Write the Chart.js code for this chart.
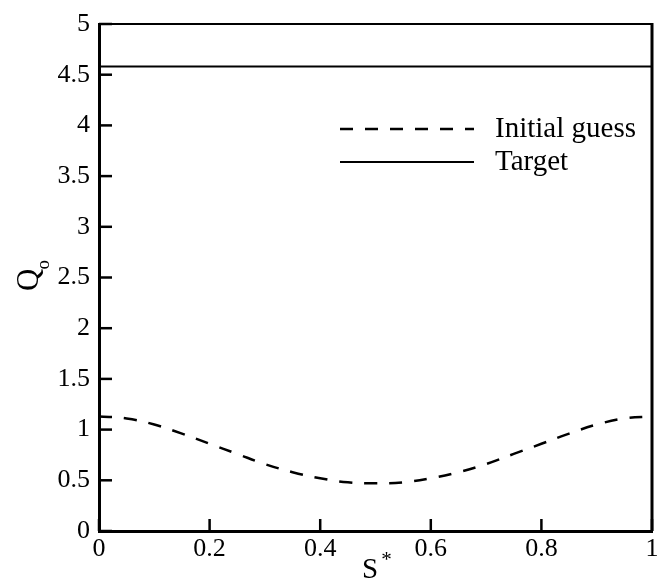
<!DOCTYPE html>
<html>
<head>
<meta charset="utf-8">
<script src="https://cdn.jsdelivr.net/npm/chart.js@4"></script>
<style>
  html, body { margin:0; padding:0; background:#fff; }
  #wrap { width:657px; height:580px; position:relative; }
</style>
</head>
<body>
<div id="wrap"><canvas id="c" width="657" height="580"></canvas></div>
<script>
// ===== Q_o vs S* — initial guess vs target =====

const S_VALUES      = [0, 0.05, 0.1, 0.15, 0.2, 0.25, 0.3, 0.35, 0.4, 0.45, 0.5, 0.55, 0.6, 0.65, 0.7, 0.75, 0.8, 0.85, 0.9, 0.95, 1];
const INITIAL_GUESS = [1.13, 1.11, 1.05, 0.96, 0.86, 0.76, 0.66, 0.58, 0.52, 0.48, 0.47, 0.48, 0.52, 0.58, 0.66, 0.76, 0.86, 0.96, 1.05, 1.11, 1.13];
const TARGET        = [4.58, 4.58, 4.58, 4.58, 4.58, 4.58, 4.58, 4.58, 4.58, 4.58, 4.58, 4.58, 4.58, 4.58, 4.58, 4.58, 4.58, 4.58, 4.58, 4.58, 4.58];
const X_TICKS = [0, 0.2, 0.4, 0.6, 0.8, 1];
const Y_TICKS = [0, 0.5, 1, 1.5, 2, 2.5, 3, 3.5, 4, 4.5, 5];

const SERIF = '"Liberation Serif", "DejaVu Serif", serif';
const DASH = [13, 12];

const pts = ys => S_VALUES.map((s, i) => ({ x: s, y: ys[i] }));

// frame, inward ticks, legend, axis titles
const decor = {
  id: 'decor',
  afterDraw(chart) {
    const { ctx, chartArea: a, scales: { x, y } } = chart;
    ctx.save();
    ctx.strokeStyle = '#000';
    ctx.lineCap = 'butt';

    // top + right frame
    ctx.lineWidth = 2;
    ctx.beginPath(); ctx.moveTo(a.left, a.top); ctx.lineTo(a.right, a.top); ctx.stroke();
    ctx.lineWidth = 3;
    ctx.beginPath(); ctx.moveTo(a.right, a.top - 1); ctx.lineTo(a.right, a.bottom); ctx.stroke();

    // inward ticks
    ctx.lineWidth = 2.5;
    Y_TICKS.forEach(v => {
      const py = y.getPixelForValue(v);
      ctx.beginPath(); ctx.moveTo(a.left, py); ctx.lineTo(a.left + 13, py); ctx.stroke();
    });
    X_TICKS.forEach(v => {
      const px = x.getPixelForValue(v);
      ctx.beginPath(); ctx.moveTo(px, a.bottom); ctx.lineTo(px, a.bottom - 12); ctx.stroke();
    });

    // legend
    const ds = chart.data.datasets;
    const rows = [{ y: 129 }, { y: 162 }];
    ctx.font = '29px ' + SERIF;
    ctx.fillStyle = '#000';
    ctx.textBaseline = 'middle';
    ds.forEach((d, i) => {
      const ly = rows[i].y;
      ctx.lineWidth = d.borderWidth;
      ctx.setLineDash(d.borderDash || []);
      ctx.beginPath(); ctx.moveTo(340, ly); ctx.lineTo(474, ly); ctx.stroke();
      ctx.setLineDash([]);
      ctx.fillText(d.label, 495, ly);
    });

    // y title: Q with subscript o, rotated
    ctx.save();
    ctx.translate(38, 291);
    ctx.rotate(-Math.PI / 2);
    ctx.textBaseline = 'alphabetic';
    ctx.textAlign = 'left';
    ctx.font = '31px ' + SERIF;
    ctx.fillText('Q', 0, 0);
    const qw = ctx.measureText('Q').width;
    ctx.font = '19px ' + SERIF;
    ctx.fillText('o', qw - 1, 11);
    ctx.restore();

    // x title: S with superscript *
    ctx.textBaseline = 'alphabetic';
    ctx.textAlign = 'left';
    ctx.font = '29px ' + SERIF;
    ctx.fillText('S', 362, 578);
    const sw = ctx.measureText('S').width;
    ctx.font = '21px ' + SERIF;
    ctx.fillText('*', 362 + sw + 3, 566);

    ctx.restore();
  }
};

new Chart(document.getElementById('c'), {
  type: 'line',
  data: {
    datasets: [
      { label: 'Initial guess', data: pts(INITIAL_GUESS), borderColor: '#000', borderWidth: 2.5,
        borderDash: DASH, pointRadius: 0, tension: 0.4, fill: false },
      { label: 'Target', data: pts(TARGET), borderColor: '#000', borderWidth: 2,
        pointRadius: 0, tension: 0, fill: false }
    ]
  },
  options: {
    responsive: false, animation: false, devicePixelRatio: 1,
    layout: { padding: { top: 24, right: 5, left: 0, bottom: 0 } },
    plugins: { legend: { display: false }, tooltip: { enabled: false } },
    scales: {
      x: {
        type: 'linear', min: 0, max: 1,
        afterBuildTicks: s => { s.ticks = X_TICKS.map(v => ({ value: v })); },
        afterFit: s => { s.height = 49; s.paddingLeft = 0; s.paddingRight = 0; },
        ticks: { color: '#000', font: { family: SERIF, size: 26 }, padding: 3, maxRotation: 0,
                 callback: v => String(v) },
        grid: { display: false, drawTicks: false },
        border: { display: true, color: '#000', width: 3 }
      },
      y: {
        type: 'linear', min: 0, max: 5,
        afterBuildTicks: s => { s.ticks = Y_TICKS.map(v => ({ value: v })); },
        afterFit: s => { s.width = 99; s.paddingTop = 0; s.paddingBottom = 0; },
        ticks: { color: '#000', font: { family: SERIF, size: 26 }, padding: 9,
                 callback: v => String(v) },
        grid: { display: false, drawTicks: false },
        border: { display: true, color: '#000', width: 3 }
      }
    }
  },
  plugins: [decor]
});
</script>
</body>
</html>
